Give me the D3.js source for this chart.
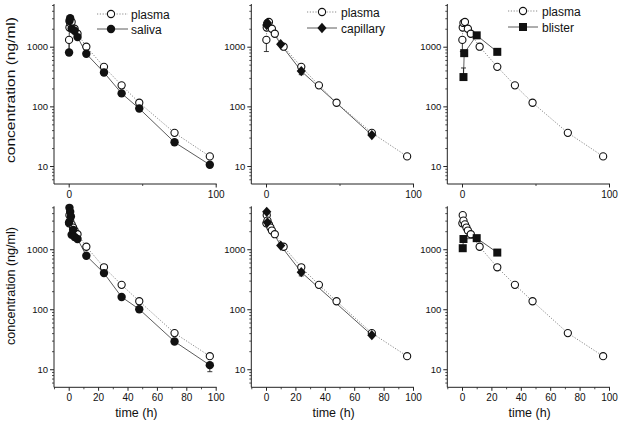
<!DOCTYPE html>
<html><head><meta charset="utf-8">
<script src="https://cdn.jsdelivr.net/npm/d3@7"></script>
<style>
html,body{margin:0;padding:0;background:#fff;}
svg{display:block;font-family:"Liberation Sans",Arial,sans-serif;}
</style></head>
<body><svg id="c" width="629" height="425"></svg>
<script>
// ---------- data ----------
const plasmaTimeTop = [0.25, 0.5, 1, 2, 4, 6, 12, 24, 36, 48, 72, 96];
const plasmaTop     = [1300, 2100, 2500, 2600, 2000, 1650, 1000, 460, 225, 115, 36, 14.5];
const salivaTimeTop = [0.25, 0.5, 1, 2, 4, 6, 12, 24, 36, 48, 72, 96];
const salivaTop     = [800, 2700, 3000, 2000, 1850, 1450, 760, 370, 165, 92, 25, 10.5];
const capTimeTop    = [0.5, 1, 10, 24, 72];
const capTop        = [2300, 2500, 1100, 390, 33];
const blisTimeTop   = [1, 1.5, 10, 24];
const blisTop       = [310, 780, 1550, 820];

const plasmaTimeBot = [0.25, 0.5, 1, 2, 3, 4, 6, 12, 24, 36, 48, 72, 96];
const plasmaBot     = [2700, 3700, 3000, 2600, 2300, 2050, 1780, 1100, 500, 255, 136, 40, 16.5];
const salivaTimeBot = [0.25, 0.5, 1, 1.5, 2, 3, 4, 6, 12, 24, 36, 48, 72, 96];
const salivaBot     = [2800, 4900, 4200, 3500, 1750, 2100, 1600, 1480, 780, 400, 160, 100, 29, 11.7];
const capTimeBot    = [0.5, 1, 10, 24, 72];
const capBot        = [4200, 2800, 1150, 415, 37];
const blisTimeBot   = [0.5, 1, 10, 24];
const blisBot       = [1040, 1480, 1530, 880];

// error bars: [time, value, bar end]
const errPlasmaTop = [[0.25, 1300, 830]];
const errSalivaBot = [[96, 11.7, 9.1], [72, 29, 26]];
const errCapTop    = [[24, 390, 340]];
const errCapBot    = [[24, 415, 360]];
const errBlisTop   = [[1, 310, 440]];

const yMajor = [10, 100, 1000];
const yMinor = [6,7,8,9,20,30,40,50,60,70,80,90,200,300,400,500,600,700,800,900,2000,3000,4000,5000];
const xMajorTop = [0, 100], xMinorTop = [50];
const xMajorBot = [0, 20, 40, 60, 80, 100], xMinorBot = [-10, 10, 30, 50, 70, 90];

const legendNames = ["saliva", "capillary", "blister"];

// ---------- layout ----------
const svg = d3.select("#c");
const rowBox = [{top: 5, bottom: 184}, {top: 207.3, bottom: 387.3}];
const colLeft = [54, 251.3, 447.3];
const W = 161.7;
const dotted = "#8a8a8a", solid = "#4a4a4a", axisC = "#222";

const topRow = {
  plasma: [plasmaTimeTop, plasmaTop],
  other: [[salivaTimeTop, salivaTop], [capTimeTop, capTop], [blisTimeTop, blisTop]],
  errP: errPlasmaTop, errO: [[], errCapTop, errBlisTop]
};
const botRow = {
  plasma: [plasmaTimeBot, plasmaBot],
  other: [[salivaTimeBot, salivaBot], [capTimeBot, capBot], [blisTimeBot, blisBot]],
  errP: [], errO: [errSalivaBot, errCapBot, []]
};
const shapes = ["dot", "diamond", "square"];
const legendPos = [{mx: 111, t: 131, y1: 14, y2: 29, l0: 97, l1: 128},
                   {mx: 322, t: 341, y1: 12, y2: 28, l0: 307, l1: 337},
                   {mx: 523, t: 542, y1: 11, y2: 27, l0: 508, l1: 538}];

function marker(g, shape, x, y) {
  if (shape === "circle") {
    g.append("circle").attr("cx", x).attr("cy", y).attr("r", 3.6)
      .attr("fill", "#fff").attr("stroke", "#111").attr("stroke-width", 1.1);
  } else if (shape === "dot") {
    g.append("circle").attr("cx", x).attr("cy", y).attr("r", 4.2).attr("fill", "#111");
  } else if (shape === "diamond") {
    g.append("path").attr("d", `M${x},${y-5.2}L${x+4.6},${y}L${x},${y+5.2}L${x-4.6},${y}Z`).attr("fill", "#111");
  } else {
    g.append("rect").attr("x", x-4).attr("y", y-4).attr("width", 8).attr("height", 8).attr("fill", "#111");
  }
}

[topRow, botRow].forEach((R, ri) => {
  const row = rowBox[ri];
  const y = d3.scaleLog().domain([5, 5000]).range([row.bottom, row.top]);
  colLeft.forEach((left, ci) => {
    const x = d3.scaleLinear().domain([-10, 100]).range([left, left + W]);
    const g = svg.append("g");
    const ya = g.append("g").attr("transform", `translate(${left},0)`)
      .call(d3.axisLeft(y).tickValues(yMajor).tickFormat(d3.format("d")).tickSize(4).tickPadding(2));
    ya.select(".domain").remove();
    ya.selectAll("text").attr("font-size", 9.5).attr("fill", "#111").attr("font-family", "Liberation Sans, Arial");
    ya.selectAll("line").attr("stroke", axisC);
    const ym = g.append("g").attr("transform", `translate(${left},0)`)
      .call(d3.axisLeft(y).tickValues(yMinor).tickFormat("").tickSize(2));
    ym.select(".domain").remove();
    ym.selectAll("line").attr("stroke", axisC).attr("stroke-width", 0.8);

    const xMaj = ri === 0 ? xMajorTop : xMajorBot, xMin = ri === 0 ? xMinorTop : xMinorBot;
    const xa = g.append("g").attr("transform", `translate(0,${row.bottom})`)
      .call(d3.axisBottom(x).tickValues(xMaj).tickFormat(d3.format("d")).tickSize(3.5).tickPadding(3));
    xa.select(".domain").remove();
    xa.selectAll("text").attr("font-size", 10).attr("fill", "#111").attr("font-family", "Liberation Sans, Arial");
    xa.selectAll("line").attr("stroke", axisC);
    const xm = g.append("g").attr("transform", `translate(0,${row.bottom})`)
      .call(d3.axisBottom(x).tickValues(xMin).tickFormat("").tickSize(2));
    xm.select(".domain").remove();
    xm.selectAll("line").attr("stroke", axisC).attr("stroke-width", 0.8);

    g.append("line").attr("x1", left).attr("x2", left).attr("y1", row.top - 1).attr("y2", row.bottom)
      .attr("stroke", axisC).attr("stroke-width", 1);
    g.append("line").attr("x1", left).attr("x2", left + W + 1).attr("y1", row.bottom).attr("y2", row.bottom)
      .attr("stroke", axisC).attr("stroke-width", 1);

    const [pt, pv] = R.plasma;
    const pts = pt.map((t, i) => [t, pv[i]]);
    const line = d3.line().x(d => x(d[0])).y(d => y(d[1]));
    g.append("path").attr("d", line(pts)).attr("fill", "none").attr("stroke", dotted)
      .attr("stroke-width", 1).attr("stroke-dasharray", "1.2,1.6");
    const [ot, ov] = R.other[ci];
    const ops = ot.map((t, i) => [t, ov[i]]);
    g.append("path").attr("d", line(ops)).attr("fill", "none").attr("stroke", solid).attr("stroke-width", 0.9);

    const errs = R.errP.concat(R.errO[ci]);
    errs.forEach(e => {
      g.append("line").attr("x1", x(e[0])).attr("x2", x(e[0])).attr("y1", y(e[1])).attr("y2", y(e[2]))
        .attr("stroke", "#222").attr("stroke-width", 0.9);
      g.append("line").attr("x1", x(e[0]) - 2.5).attr("x2", x(e[0]) + 2.5).attr("y1", y(e[2])).attr("y2", y(e[2]))
        .attr("stroke", "#222").attr("stroke-width", 0.9);
    });

    pts.forEach(d => marker(g, "circle", x(d[0]), y(d[1])));
    ops.forEach(d => marker(g, shapes[ci], x(d[0]), y(d[1])));

    if (ri === 0) {
      const L = legendPos[ci];
      g.append("line").attr("x1", L.l0).attr("x2", L.l1).attr("y1", L.y1).attr("y2", L.y1)
        .attr("stroke", dotted).attr("stroke-dasharray", "1.2,1.6");
      marker(g, "circle", L.mx, L.y1);
      g.append("text").attr("x", L.t).attr("y", L.y1 + 4.5).attr("font-size", 12).attr("fill", "#111").text("plasma");
      g.append("line").attr("x1", L.l0).attr("x2", L.l1).attr("y1", L.y2).attr("y2", L.y2)
        .attr("stroke", solid).attr("stroke-width", 0.9);
      marker(g, shapes[ci], L.mx, L.y2);
      g.append("text").attr("x", L.t).attr("y", L.y2 + 4.5).attr("font-size", 12).attr("fill", "#111").text(legendNames[ci]);
    }
    if (ri === 1) {
      g.append("text").attr("x", x(46)).attr("y", 417).attr("text-anchor", "middle")
        .attr("font-size", 12.5).attr("fill", "#111").text("time (h)");
    }
  });
});

[{cy: 90, len: 146}, {cy: 286, len: 118}].forEach(o => {
  svg.append("text").attr("transform", `translate(15,${o.cy}) rotate(-90)`)
    .attr("text-anchor", "middle").attr("font-size", 12.5).attr("fill", "#111")
    .attr("textLength", o.len).attr("lengthAdjust", "spacingAndGlyphs")
    .text("concentration (ng/ml)");
});
</script></body></html>
